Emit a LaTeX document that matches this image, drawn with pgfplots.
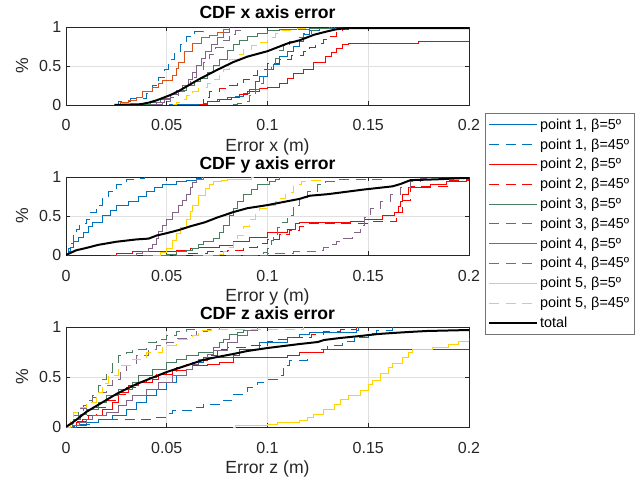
\documentclass[border=0pt]{standalone}
\usepackage{fontspec}
\setmainfont{Liberation Sans}
\usepackage{pgfplots}
\pgfplotsset{compat=1.18}

\definecolor{cA}{RGB}{0,114,189}
\definecolor{cB}{RGB}{255,0,0}
\definecolor{cC}{RGB}{72,125,95}
\definecolor{cD}{RGB}{130,100,135}
\definecolor{cE}{RGB}{255,210,0}
\definecolor{cO}{RGB}{217,83,25}

\pgfplotsset{
  every axis title shift=0pt,
  cdfax/.style={
    scale only axis, width=302.25pt,
    xmin=0, xmax=0.2, ymin=0, ymax=1,
    xtick={0,0.05,0.1,0.15,0.2}, xticklabels={0,0.05,0.1,0.15,0.2},
    ytick={0,0.5,1}, yticklabels={0,0.5,1},
    /pgf/number format/assume math mode=true,
    grid=major, grid style={black!12, line width=0.5pt},
    axis line style={black!85, line width=0.5pt},
    tick style={black!85, line width=0.5pt},
    major tick length=3pt,
    tick label style={font=\fontsize{12}{14}\selectfont, text=black!85},
    xticklabel style={anchor=base, yshift=-19.5pt},
    title style={at={(axis description cs:0.5,1)}, anchor=base, yshift=6pt,
      font=\bfseries\fontsize{13.2}{15}\selectfont},
    xlabel style={at={(axis description cs:0.5,0)}, anchor=base, yshift=-34.5pt,
      font=\fontsize{13.2}{15}\selectfont, text=black!85},
    ylabel style={at={(axis description cs:-0.109,0.5)}, anchor=center,
      font=\fontsize{13.2}{15}\selectfont, text=black!85},
    ylabel={\%},
  },
  cs/.style={const plot, line width=0.75pt, solid, color=#1},
  cd/.style={const plot, line width=0.75pt, dash pattern=on 7.5pt off 5pt, color=#1},
  ct/.style={sharp plot, line width=1.5pt, solid, color=black},
}

\begin{document}
\begin{tikzpicture}
\useasboundingbox (0pt,0pt) rectangle (480.75pt,-360.75pt);

% x error
\begin{axis}[cdfax, at={(49.5pt,-20.25pt)}, anchor=north west, height=58.5pt,
  title={CDF x axis error}, xlabel={Error x (m)}]
\addplot[cs=cA] coordinates {(0.051,0) (0.068,0.02) (0.07,0.05) (0.075,0.07) (0.08,0.09) (0.084,0.11) (0.088,0.15) (0.091,0.2) (0.094,0.3) (0.096,0.37) (0.1,0.45) (0.103,0.52) (0.106,0.62) (0.11,0.68) (0.113,0.75) (0.116,0.82) (0.118,0.9) (0.121,0.95) (0.126,0.985) (0.133,1)};
\addplot[cd=cA] coordinates {(0.025,0) (0.026,0.05) (0.032,0.08) (0.040,0.15) (0.043,0.25) (0.046,0.35) (0.049,0.45) (0.051,0.58) (0.054,0.68) (0.057,0.78) (0.060,0.88) (0.064,0.94) (0.068,1.0)};
\addplot[cs=cB] coordinates {(0.067,0) (0.07,0.05) (0.076,0.07) (0.082,0.1) (0.086,0.13) (0.09,0.17) (0.096,0.21) (0.1,0.23) (0.106,0.28) (0.11,0.34) (0.113,0.41) (0.118,0.45) (0.123,0.54) (0.129,0.62) (0.132,0.67) (0.134,0.73) (0.137,0.77) (0.14,0.79) (0.175,0.81) (0.2,0.81)};
\addplot[cd=cB] coordinates {(0.066,0) (0.068,0.1) (0.071,0.17) (0.076,0.21) (0.08,0.25) (0.085,0.29) (0.088,0.33) (0.091,0.38) (0.095,0.45) (0.1,0.53) (0.106,0.58) (0.112,0.63) (0.118,0.68) (0.121,0.74) (0.124,0.79) (0.128,0.84) (0.131,0.88) (0.134,0.93) (0.137,0.97) (0.14,0.985)};
\addplot[cs=cC] coordinates {(0.038,0) (0.042,0.03) (0.047,0.07) (0.052,0.13) (0.056,0.19) (0.06,0.25) (0.064,0.3) (0.0665,0.34) (0.07,0.42) (0.073,0.5) (0.076,0.58) (0.08,0.7) (0.083,0.77) (0.086,0.83) (0.09,0.88) (0.095,0.92) (0.1,0.95) (0.106,0.97) (0.121,0.985) (0.131,1)};
\addplot[cd=cC] coordinates {(0.083,0) (0.085,0.02) (0.088,0.04) (0.091,0.12) (0.094,0.2) (0.096,0.28) (0.098,0.37) (0.1,0.45) (0.102,0.52) (0.104,0.6) (0.106,0.7) (0.108,0.76) (0.111,0.82) (0.114,0.87) (0.118,0.92) (0.122,0.96) (0.127,0.98) (0.132,1)};
\addplot[cs=cD] coordinates {(0.042,0) (0.045,0.03) (0.049,0.08) (0.052,0.13) (0.055,0.18) (0.058,0.25) (0.061,0.33) (0.063,0.42) (0.065,0.5) (0.067,0.6) (0.069,0.68) (0.072,0.78) (0.075,0.86) (0.078,0.93) (0.081,1.0)};
\addplot[cd=cD] coordinates {(0.044,0) (0.048,0.05) (0.052,0.1) (0.056,0.17) (0.059,0.25) (0.062,0.35) (0.065,0.45) (0.068,0.55) (0.071,0.65) (0.074,0.74) (0.078,0.83) (0.081,0.9) (0.084,0.95) (0.087,1.0)};
\addplot[cs=cO] coordinates {(0.025,0) (0.027,0.03) (0.031,0.06) (0.035,0.1) (0.038,0.17) (0.043,0.22) (0.046,0.27) (0.048,0.32) (0.053,0.38) (0.055,0.47) (0.056,0.55) (0.059,0.68) (0.063,0.79) (0.067,0.86) (0.071,0.89) (0.075,0.93) (0.078,0.97) (0.081,1.0)};
\addplot[cd=cE] coordinates {(0.053,0) (0.055,0.03) (0.058,0.07) (0.06,0.12) (0.063,0.17) (0.066,0.22) (0.07,0.28) (0.073,0.33) (0.076,0.4) (0.078,0.46) (0.081,0.58) (0.085,0.65) (0.088,0.71) (0.092,0.76) (0.095,0.8) (0.1,0.86) (0.104,0.92) (0.106,0.96) (0.115,0.985) (0.12,1)};
\addplot[ct] coordinates {(0.024,0) (0.03,0.005) (0.037,0.01) (0.041,0.03) (0.045,0.06) (0.052,0.13) (0.056,0.18) (0.06,0.24) (0.066,0.33) (0.075,0.45) (0.083,0.55) (0.09,0.62) (0.1,0.69) (0.11,0.79) (0.116,0.83) (0.123,0.9) (0.129,0.94) (0.134,0.97) (0.139,0.985) (0.2,0.985)};
\end{axis}

% y error, carries the legend
\begin{axis}[cdfax, at={(49.5pt,-132.75pt)}, anchor=north west, height=58.5pt,
  title={CDF y axis error}, xlabel={Error y (m)},
  legend cell align=left,
  legend style={at={(1.0397,1.8205)}, anchor=north west, draw=black!55,
    line width=0.5pt, inner xsep=2pt, inner ysep=1.2pt, row sep=0pt,
    font=\fontsize{10.8}{13}\selectfont,
    nodes={inner sep=1.5pt, text height=9.2pt, text depth=2.65pt}},
  legend image code/.code={\draw[#1] (0pt,0pt) -- (36pt,0pt);}]
\addplot[cs=cA] coordinates {(0,0) (0.001,0.05) (0.002,0.1) (0.0035,0.17) (0.006,0.23) (0.0085,0.29) (0.011,0.36) (0.013,0.42) (0.018,0.51) (0.022,0.57) (0.025,0.64) (0.031,0.68) (0.036,0.75) (0.04,0.81) (0.044,0.86) (0.048,0.9) (0.055,0.94) (0.06,0.96) (0.065,0.98) (0.067,1.0)};
\addlegendentry{point 1, β=5º}
\addplot[cd=cA] coordinates {(0,0) (0.001,0.08) (0.002,0.15) (0.0035,0.26) (0.005,0.33) (0.0065,0.4) (0.01,0.46) (0.012,0.55) (0.015,0.64) (0.018,0.72) (0.021,0.81) (0.025,0.91) (0.03,0.97) (0.035,0.98) (0.039,1.0)};
\addlegendentry{point 1, β=45º}
\addplot[cs=cB] coordinates {(0.022,0) (0.025,0.02) (0.033,0.04) (0.05,0.05) (0.055,0.06) (0.062,0.08) (0.066,0.1) (0.076,0.12) (0.083,0.17) (0.091,0.23) (0.1,0.29) (0.11,0.33) (0.114,0.4) (0.116,0.42) (0.141,0.43) (0.148,0.45) (0.157,0.51) (0.163,0.55) (0.165,0.62) (0.166,0.68) (0.167,0.77) (0.17,0.87) (0.181,0.9) (0.189,0.94) (0.199,0.97) (0.2,0.98)};
\addlegendentry{point 2, β=5º}
\addplot[cd=cB] coordinates {(0.045,0) (0.06,0.02) (0.07,0.04) (0.08,0.06) (0.088,0.1) (0.095,0.15) (0.1,0.2) (0.106,0.26) (0.111,0.32) (0.116,0.37) (0.12,0.4) (0.13,0.41) (0.15,0.43) (0.164,0.55) (0.167,0.7) (0.171,0.88) (0.19,0.95) (0.2,0.98)};
\addlegendentry{point 2, β=45º}
\addplot[cs=cC] coordinates {(0.048,0) (0.05,0.01) (0.055,0.04) (0.06,0.06) (0.063,0.08) (0.066,0.13) (0.068,0.17) (0.073,0.21) (0.076,0.29) (0.078,0.38) (0.081,0.51) (0.083,0.6) (0.085,0.68) (0.088,0.77) (0.092,0.84) (0.095,0.9) (0.101,0.94) (0.104,0.97) (0.106,1.0)};
\addlegendentry{point 3, β=5º}
\addplot[cd=cC] coordinates {(0.082,0) (0.098,0.03) (0.1,0.08) (0.102,0.18) (0.103,0.26) (0.105,0.35) (0.106,0.42) (0.11,0.51) (0.113,0.64) (0.116,0.72) (0.12,0.81) (0.125,0.9) (0.129,0.94) (0.133,0.97) (0.157,1.0)};
\addlegendentry{point 3, β=45º}
\addplot[cs=cD] coordinates {(0.025,0) (0.035,0.02) (0.038,0.04) (0.041,0.08) (0.043,0.14) (0.045,0.21) (0.046,0.3) (0.048,0.38) (0.05,0.46) (0.053,0.55) (0.056,0.64) (0.058,0.7) (0.06,0.77) (0.062,0.86) (0.063,0.93) (0.065,0.97) (0.068,1.0)};
\addlegendentry{point 4, β=5º}
\addplot[cd=cD] coordinates {(0.03,0) (0.1,0.02) (0.113,0.04) (0.124,0.06) (0.128,0.1) (0.131,0.14) (0.134,0.17) (0.137,0.21) (0.142,0.29) (0.146,0.38) (0.148,0.48) (0.151,0.59) (0.156,0.68) (0.161,0.77) (0.166,0.87) (0.171,0.94) (0.176,0.98) (0.18,1.0)};
\addlegendentry{point 4, β=45º}
\addplot[cs=cE] coordinates {(0.043,0) (0.047,0.03) (0.05,0.08) (0.053,0.18) (0.055,0.27) (0.057,0.35) (0.06,0.46) (0.062,0.56) (0.063,0.64) (0.066,0.76) (0.069,0.85) (0.071,0.9) (0.073,0.94) (0.077,0.96) (0.08,0.97) (0.092,0.99) (0.093,1)};
\addlegendentry{point 5, β=5º}
\addplot[cd=cE] coordinates {(0.068,0) (0.076,0.01) (0.078,0.04) (0.08,0.1) (0.083,0.17) (0.085,0.25) (0.088,0.36) (0.091,0.46) (0.094,0.53) (0.096,0.59) (0.1,0.64) (0.104,0.68) (0.106,0.72) (0.109,0.8) (0.113,0.9) (0.117,0.94) (0.12,0.96) (0.127,1.0)};
\addlegendentry{point 5, β=45º}
\addplot[ct] coordinates {(0,0) (0.005,0.06) (0.01,0.09) (0.016,0.13) (0.025,0.17) (0.035,0.2) (0.041,0.21) (0.045,0.25) (0.05,0.28) (0.056,0.32) (0.062,0.37) (0.069,0.42) (0.075,0.48) (0.083,0.55) (0.09,0.6) (0.1,0.64) (0.108,0.68) (0.116,0.72) (0.121,0.76) (0.13,0.78) (0.136,0.8) (0.148,0.84) (0.162,0.88) (0.166,0.91) (0.171,0.96) (0.184,0.97) (0.2,0.99)};
\addlegendentry{total}
\end{axis}

% z error
\begin{axis}[cdfax, at={(49.5pt,-245.25pt)}, anchor=north west, height=75pt,
  title={CDF z axis error}, xlabel={Error z (m)}]
\addplot[cs=cA] coordinates {(0,0) (0.005,0.02) (0.01,0.05) (0.016,0.08) (0.023,0.12) (0.03,0.18) (0.035,0.25) (0.04,0.32) (0.045,0.38) (0.05,0.45) (0.055,0.52) (0.06,0.58) (0.063,0.65) (0.068,0.7) (0.083,0.72) (0.086,0.78) (0.096,0.85) (0.11,0.9) (0.116,0.93) (0.121,0.95) (0.144,0.97) (0.145,1.0)};
\addplot[cd=cA] coordinates {(0,0) (0.003,0.01) (0.0065,0.03) (0.012,0.05) (0.016,0.08) (0.045,0.1) (0.05,0.14) (0.053,0.17) (0.063,0.2) (0.068,0.23) (0.078,0.27) (0.083,0.33) (0.09,0.4) (0.095,0.45) (0.1,0.48) (0.105,0.52) (0.108,0.62) (0.111,0.67) (0.12,0.75) (0.125,0.78) (0.13,0.82) (0.137,0.86) (0.143,0.9) (0.15,0.94) (0.154,0.97) (0.162,1.0)};
\addplot[cs=cB] coordinates {(0,0) (0.003,0.02) (0.005,0.05) (0.008,0.08) (0.011,0.12) (0.018,0.18) (0.023,0.25) (0.026,0.35) (0.031,0.42) (0.036,0.45) (0.043,0.48) (0.046,0.53) (0.053,0.57) (0.06,0.58) (0.063,0.62) (0.07,0.63) (0.076,0.65) (0.083,0.7) (0.11,0.72) (0.116,0.75) (0.128,0.78) (0.2,0.78)};
\addplot[cd=cB] coordinates {(0,0) (0.005,0.06) (0.01,0.12) (0.015,0.2) (0.02,0.27) (0.025,0.33) (0.03,0.4) (0.035,0.45) (0.04,0.5) (0.045,0.53) (0.05,0.56) (0.055,0.6) (0.06,0.63) (0.065,0.67) (0.07,0.72) (0.075,0.78) (0.08,0.8) (0.09,0.82) (0.1,0.86) (0.105,0.88) (0.113,0.9) (0.122,0.93) (0.128,0.96) (0.136,0.98) (0.144,1.0)};
\addplot[cs=cC] coordinates {(0,0) (0.002,0.04) (0.0035,0.08) (0.007,0.13) (0.01,0.18) (0.016,0.25) (0.02,0.32) (0.026,0.38) (0.033,0.45) (0.036,0.52) (0.043,0.58) (0.05,0.65) (0.055,0.68) (0.06,0.72) (0.066,0.75) (0.073,0.8) (0.076,0.85) (0.078,0.88) (0.081,0.93) (0.085,0.95) (0.088,0.97) (0.095,1.0)};
\addplot[cd=cC] coordinates {(0,0) (0.002,0.03) (0.0035,0.08) (0.006,0.15) (0.0085,0.22) (0.011,0.27) (0.013,0.32) (0.016,0.42) (0.018,0.48) (0.02,0.55) (0.023,0.65) (0.026,0.72) (0.03,0.75) (0.033,0.78) (0.04,0.85) (0.045,0.88) (0.05,0.92) (0.055,0.96) (0.06,0.98) (0.066,1.0)};
\addplot[cs=cD] coordinates {(0,0) (0.003,0.02) (0.0065,0.05) (0.01,0.08) (0.013,0.12) (0.02,0.15) (0.026,0.22) (0.03,0.27) (0.033,0.32) (0.04,0.38) (0.046,0.45) (0.053,0.52) (0.06,0.58) (0.063,0.63) (0.066,0.68) (0.07,0.73) (0.073,0.77) (0.08,0.85) (0.085,0.92) (0.09,0.97) (0.095,1.0)};
\addplot[cd=cD] coordinates {(0,0) (0.002,0.05) (0.0035,0.12) (0.007,0.19) (0.01,0.25) (0.013,0.3) (0.016,0.35) (0.02,0.42) (0.023,0.48) (0.027,0.55) (0.03,0.62) (0.035,0.72) (0.041,0.78) (0.045,0.82) (0.05,0.85) (0.055,0.89) (0.06,0.92) (0.065,0.96) (0.07,0.98) (0.076,1.0)};
\addplot[cs=cE] coordinates {(0.083,0) (0.084,0.02) (0.1,0.03) (0.105,0.05) (0.116,0.07) (0.12,0.1) (0.123,0.13) (0.128,0.18) (0.133,0.23) (0.136,0.28) (0.14,0.32) (0.146,0.37) (0.15,0.43) (0.152,0.47) (0.156,0.54) (0.16,0.6) (0.162,0.64) (0.167,0.7) (0.17,0.75) (0.172,0.78) (0.182,0.8) (0.19,0.83) (0.195,0.86) (0.2,0.89)};
\addplot[cd=cE] coordinates {(0,0) (0.002,0.07) (0.0035,0.15) (0.007,0.2) (0.01,0.25) (0.015,0.35) (0.018,0.44) (0.021,0.52) (0.026,0.62) (0.033,0.68) (0.04,0.75) (0.048,0.82) (0.055,0.88) (0.063,0.92) (0.066,0.97) (0.072,0.98) (0.118,1.0)};
\addplot[ct] coordinates {(0,0) (0.005,0.07) (0.01,0.15) (0.015,0.21) (0.02,0.27) (0.025,0.33) (0.03,0.38) (0.035,0.43) (0.04,0.47) (0.045,0.51) (0.05,0.55) (0.056,0.59) (0.062,0.63) (0.068,0.67) (0.075,0.7) (0.083,0.73) (0.09,0.76) (0.1,0.79) (0.108,0.81) (0.116,0.83) (0.125,0.85) (0.128,0.87) (0.136,0.89) (0.146,0.91) (0.155,0.93) (0.162,0.94) (0.17,0.95) (0.179,0.96) (0.2,0.97)};
\end{axis}
\end{tikzpicture}
\end{document}
